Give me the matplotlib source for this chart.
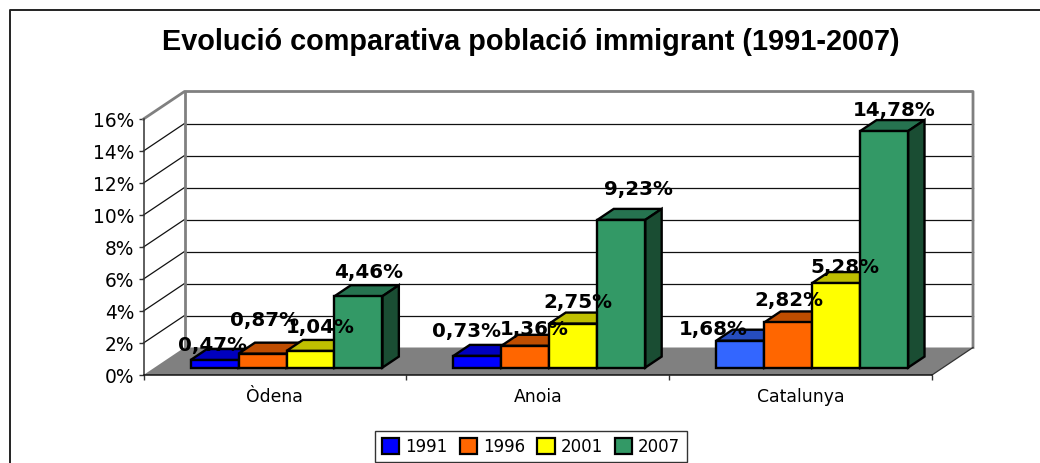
import matplotlib
matplotlib.use("Agg")
import matplotlib.pyplot as plt
from matplotlib.lines import Line2D
from matplotlib.patches import Patch, Polygon

categories = ["Òdena", "Anoia", "Catalunya"]
years = ["1991", "1996", "2001", "2007"]
values = [
    [0.47, 0.87, 1.04, 4.46],
    [0.73, 1.36, 2.75, 9.23],
    [1.68, 2.82, 5.28, 14.78],
]
labels = [
    ["0,47%", "0,87%", "1,04%", "4,46%"],
    ["0,73%", "1,36%", "2,75%", "9,23%"],
    ["1,68%", "2,82%", "5,28%", "14,78%"],
]
y_ticks = [0, 2, 4, 6, 8, 10, 12, 14, 16]

# front, top, side
colors = [
    ("#0000FF", "#0000BF", "#000080"),
    ("#FF6600", "#BF4D00", "#803300"),
    ("#FFFF00", "#BFBF00", "#808000"),
    ("#339966", "#267350", "#1A4D33"),
]
# the Catalunya 1991 bar has its own blue
catalunya_blue = ("#3366FF", "#264DBF", "#1A3380")

# labels were moved by hand in the original, offsets in pixels
label_offsets = [
    [(-2, 16), (2, 34), (10, 24), (10, 25)],
    [(-11, 25), (9, 17), (5, 22), (17, 31)],
    [(-27, 12), (1, 23), (9, 16.5), (10, 22)],
]

# depth of the box in data units
DX = 41 / 262.8
DY = 27.5 / 16
BAR_W = 0.1825
GROUP_PAD = 0.137
D_FRONT = 0.27
D_BACK = 0.67


def project(x, y, d):
    return x + d * DX, y + d * DY


def draw_bar(ax, x, v, cols, z):
    x0, y0 = project(x, 0, D_FRONT)
    x1, y1 = project(x + BAR_W, v, D_FRONT)
    bx0, by1 = project(x, v, D_BACK)
    bx1, by0 = project(x + BAR_W, 0, D_BACK)
    style = dict(edgecolor="black", linewidth=1.7, clip_on=False, zorder=z, joinstyle="miter")
    ax.add_patch(Polygon([(x0, y1), (x1, y1), (bx1, by1), (bx0, by1)], facecolor=cols[1], **style))
    ax.add_patch(Polygon([(x1, y0), (bx1, by0), (bx1, by1), (x1, y1)], facecolor=cols[2], **style))
    ax.add_patch(Polygon([(x0, y0), (x1, y0), (x1, y1), (x0, y1)], facecolor=cols[0], **style))


fig = plt.figure(figsize=(10.4, 4.64), dpi=100)
fig.patch.set_facecolor("white")
# chart border, only top and left are inside the picture
fig.add_artist(Line2D([9.5 / 1040, 9.5 / 1040, 1], [0, 1 - 10.5 / 464, 1 - 10.5 / 464],
                      transform=fig.transFigure, color="#222222", linewidth=1.4))

ax = fig.add_axes([143.5 / 1040, (464 - 376) / 464, (932 - 143.5) / 1040, 256 / 464])
ax.set_xlim(0, 3)
ax.set_ylim(0, 16)
ax.patch.set_visible(False)

# floor
ax.add_patch(Polygon([project(0, 0, 0), project(3, 0, 0), project(3, 0, 1), project(0, 0, 1)],
                     facecolor="#808080", edgecolor="none", clip_on=False, zorder=1))

# gridlines on the back and side walls
for t in y_ticks[1:-1]:
    bx, by = project(0, t, 1)
    ax.plot([0, bx], [t, by], color="#111111", lw=0.9, clip_on=False, zorder=1.5)
    ax.plot([bx, project(3, t, 1)[0]], [by, by], color="#111111", lw=0.9, clip_on=False, zorder=1.5)

# wall outline
outline = [project(0, 16, 0), project(0, 16, 1), project(3, 16, 1), project(3, 0, 1), project(3, 0, 0)]
ax.plot([p[0] for p in outline[:4]], [p[1] for p in outline[:4]], color="#808080", lw=2, clip_on=False, zorder=2)
ax.plot([outline[1][0], project(0, 0, 1)[0]], [outline[1][1], project(0, 0, 1)[1]],
        color="#808080", lw=2, clip_on=False, zorder=2)
ax.plot([outline[3][0], outline[4][0]], [outline[3][1], outline[4][1]], color="#333333", lw=0.9,
        clip_on=False, zorder=2)

for g, group in enumerate(values):
    for i, v in enumerate(group):
        x = g + GROUP_PAD + i * BAR_W
        cols = colors[i]
        if g == 2 and i == 0:
            cols = catalunya_blue
        draw_bar(ax, x, v, cols, 3 + i * 0.1)
        ax.annotate(labels[g][i], project(x + BAR_W / 2, v, D_FRONT), xytext=label_offsets[g][i],
                    textcoords="offset pixels", ha="center", va="center", fontsize=14.3,
                    fontweight="bold", family="DejaVu Sans", color="black",
                    annotation_clip=False, zorder=5)

for s in ["top", "right"]:
    ax.spines[s].set_visible(False)
ax.spines["left"].set_color("#333333")
ax.spines["bottom"].set_color("#111111")
ax.spines["left"].set_linewidth(1.1)
ax.spines["bottom"].set_linewidth(1.1)
ax.spines["left"].set_zorder(2.5)
ax.spines["bottom"].set_zorder(2.5)

ax.set_yticks(y_ticks)
ax.set_yticklabels(["%d%%" % t for t in y_ticks], fontsize=13.4, family="DejaVu Sans")
ax.set_xticks([0, 1, 2, 3])
ax.set_xticklabels([])
ax.set_xticks([0.5, 1.5, 2.5], minor=True)
ax.set_xticklabels(categories, minor=True, fontsize=12.4, family="DejaVu Sans")
ax.tick_params(axis="x", which="minor", length=0, pad=9)
ax.tick_params(axis="both", which="major", length=3.5, width=1, color="#333333", pad=3)

fig.text(531 / 1040, 1 - 42.5 / 464, "Evolució comparativa població immigrant (1991-2007)", ha="center", va="center",
         fontsize=20.75, fontweight="bold", family="Liberation Sans")

handles = [Patch(facecolor=c[0], edgecolor="black", linewidth=1.6) for c in colors]
ax.legend(handles, years, ncol=4, loc="center", bbox_to_anchor=(531 / 1040, 1 - 447.5 / 464),
          bbox_transform=fig.transFigure, prop={"family": "DejaVu Sans", "size": 12}, frameon=True,
          fancybox=False, framealpha=1, edgecolor="#333333", handlelength=1.05, handleheight=1.05,
          handletextpad=0.35, columnspacing=0.72, borderpad=0.4, borderaxespad=0)

fig.savefig("out.png", dpi=100)
